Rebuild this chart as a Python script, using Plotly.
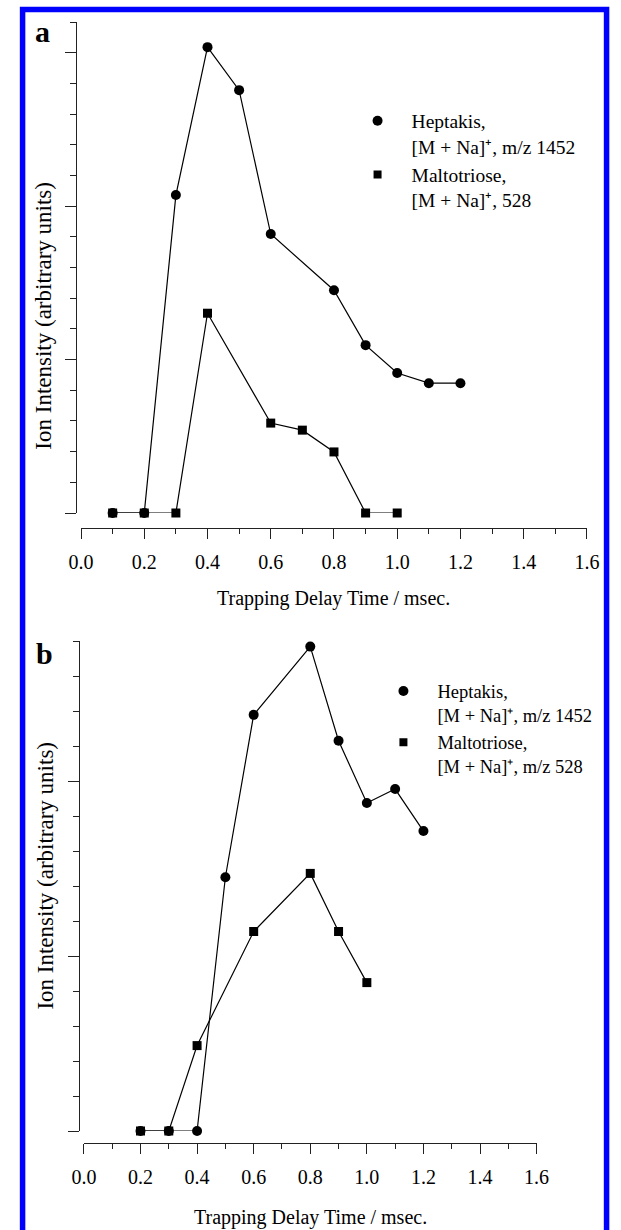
import plotly.graph_objects as go

W, H = 621, 1230

# ---------------- data ----------------
# Panel a
hep_a_x = [0.1, 0.2, 0.3, 0.4, 0.5, 0.6, 0.8, 0.9, 1.0, 1.1, 1.2]
hep_a_y = [0, 0, 10.36, 15.18, 13.78, 9.09, 7.26, 5.47, 4.56, 4.23, 4.23]
mal_a_x = [0.1, 0.2, 0.3, 0.4, 0.6, 0.7, 0.8, 0.9, 1.0]
mal_a_y = [0, 0, 0, 6.51, 2.93, 2.70, 1.99, 0, 0]
# Panel b
hep_b_x = [0.2, 0.3, 0.4, 0.5, 0.6, 0.8, 0.9, 1.0, 1.1, 1.2]
hep_b_y = [0, 0, 0, 7.25, 11.89, 13.84, 11.15, 9.37, 9.77, 8.57]
mal_b_x = [0.2, 0.3, 0.4, 0.6, 0.8, 0.9, 1.0]
mal_b_y = [0, 0, 2.44, 5.70, 7.36, 5.70, 4.24]

legend_a = ["Heptakis,<br>[M + Na]\u207a, m/z 1452",
            "Maltotriose,<br>[M + Na]\u207a, 528"]
legend_b = ["Heptakis,<br>[M + Na]\u207a, m/z 1452",
            "Maltotriose,<br>[M + Na]\u207a, m/z 528"]
x_title = "Trapping Delay Time / msec."
y_title = "Ion Intensity (arbitrary units)"
panel_labels = ["a", "b"]

FONT = "Liberation Serif, Times New Roman, serif"


def px(x):
    return x / W


def py(y):
    return 1 - y / H


fig = go.Figure()

line_style = dict(color="black", width=1.2)


def add_panel(xa, ya, hx, hy, mx, my, names, legend):
    fig.add_trace(go.Scatter(x=hx, y=hy, mode="lines+markers", xaxis=xa, yaxis=ya,
                             line=line_style, marker=dict(symbol="circle", size=10, color="black"),
                             cliponaxis=False, showlegend=False))
    fig.add_trace(go.Scatter(x=mx, y=my, mode="lines+markers", xaxis=xa, yaxis=ya,
                             line=line_style, marker=dict(symbol="square", size=9, color="black"),
                             cliponaxis=False, showlegend=False))
    # legend-only entries (marker only, as in the reference)
    fig.add_trace(go.Scatter(x=[None], y=[None], mode="markers", xaxis=xa, yaxis=ya,
                             marker=dict(symbol="circle", size=10, color="black"),
                             name=names[0], legend=legend, showlegend=True))
    fig.add_trace(go.Scatter(x=[None], y=[None], mode="markers", xaxis=xa, yaxis=ya,
                             marker=dict(symbol="square", size=8, color="black"),
                             name=names[1], legend=legend, showlegend=True))


add_panel("x", "y", hep_a_x, hep_a_y, mal_a_x, mal_a_y, legend_a, "legend")
add_panel("x2", "y2", hep_b_x, hep_b_y, mal_b_x, mal_b_y, legend_b, "legend2")

axis_common = dict(showgrid=False, zeroline=False, showline=True, linecolor="#222",
                   linewidth=1.3, ticks="outside", tickcolor="#222", tickwidth=1.2,
                   anchor="free", tickfont=dict(family=FONT, size=20, color="black"))

xcommon = dict(axis_common, range=[0, 1.6], dtick=0.2, tick0=0, tickformat=".1f",
               ticklen=10, ticklabelstandoff=6,
               minor=dict(dtick=0.1, ticklen=5, ticks="outside", tickcolor="#222", tickwidth=1.2))
ycommon = dict(axis_common, dtick=5, tick0=0, ticklen=11, showticklabels=False,
               minor=dict(dtick=1, ticklen=6, ticks="outside", tickcolor="#222", tickwidth=1.2))

fig.update_layout(
    width=W, height=H,
    margin=dict(l=0, r=0, t=0, b=0),
    paper_bgcolor="white", plot_bgcolor="white",
    font=dict(family=FONT, size=20, color="black"),
    xaxis=dict(xcommon, domain=[px(71), px(599)], position=py(528)),
    yaxis=dict(ycommon, range=[0, 16], domain=[py(513), py(22)], position=px(66)),
    xaxis2=dict(xcommon, domain=[px(74), px(546.5)], position=py(1143)),
    yaxis2=dict(ycommon, range=[0, 14], domain=[py(1131), py(641)], position=px(69)),
    legend=dict(x=px(345), y=py(101.5), xanchor="left", yanchor="top", valign="top",
                bgcolor="rgba(0,0,0,0)", itemwidth=58, tracegroupgap=0,
                font=dict(family=FONT, size=19.5, color="black")),
    legend2=dict(x=px(372), y=py(672.5), xanchor="left", yanchor="top", valign="top",
                 bgcolor="rgba(0,0,0,0)", itemwidth=58, tracegroupgap=0,
                 font=dict(family=FONT, size=18.5, color="black")),
    showlegend=True,
)

annotations = [
    dict(text=x_title, x=px(335), y=py(598), xref="paper", yref="paper",
         xanchor="center", yanchor="middle", showarrow=False, font=dict(size=20)),
    dict(text=x_title, x=px(311), y=py(1217), xref="paper", yref="paper",
         xanchor="center", yanchor="middle", showarrow=False, font=dict(size=20)),
    dict(text=y_title, x=px(32), y=py(316), xref="paper", yref="paper", textangle=-90,
         xanchor="center", yanchor="middle", showarrow=False, font=dict(size=23)),
    dict(text=y_title, x=px(33), y=py(876), xref="paper", yref="paper", textangle=-90,
         xanchor="center", yanchor="middle", showarrow=False, font=dict(size=23)),
    dict(text="<b>%s</b>" % panel_labels[0], x=px(31), y=py(32), xref="paper", yref="paper",
         xanchor="center", yanchor="middle", showarrow=False, font=dict(size=30)),
    dict(text="<b>%s</b>" % panel_labels[1], x=px(33), y=py(653), xref="paper", yref="paper",
         xanchor="center", yanchor="middle", showarrow=False, font=dict(size=30)),
]
fig.update_layout(annotations=annotations)

# blue frame around the figure
fig.add_shape(type="rect", xref="paper", yref="paper",
              x0=px(10), x1=px(619.5), y0=py(1240), y1=py(9.5),
              line=dict(color="#0000ff", width=5.5), fillcolor="rgba(0,0,0,0)", layer="above")

fig.write_html("out.html")
